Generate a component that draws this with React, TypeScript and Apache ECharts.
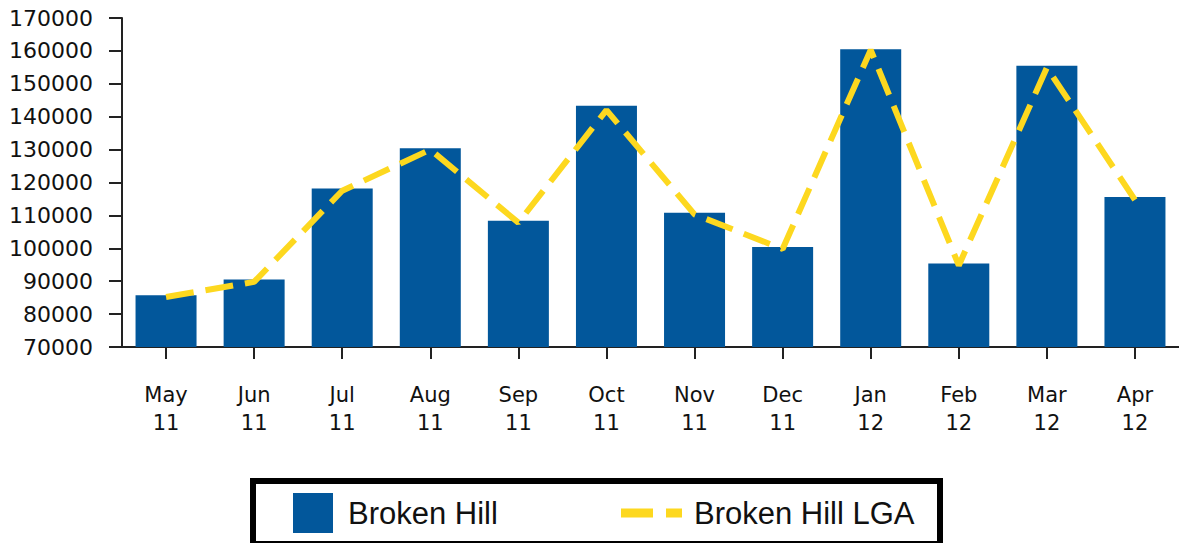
import React, { useEffect, useRef } from "react";
import * as echarts from "echarts";

const months = ["May", "Jun", "Jul", "Aug", "Sep", "Oct", "Nov", "Dec", "Jan", "Feb", "Mar", "Apr"];
const years = ["11", "11", "11", "11", "11", "11", "11", "11", "12", "12", "12", "12"];
const brokenHill = [85700, 90500, 118200, 130400, 108400, 143300, 110800, 100400, 160500, 95400, 155500, 115600];
const brokenHillLGA = [85200, 89800, 117500, 130000, 107800, 142000, 110300, 99800, 160300, 94800, 154900, 114700];
const yMin = 70000;
const yMax = 170000;
const yStep = 10000;

const categories = months.map((m, i) => m + "\n" + years[i]);

export default function App() {
  const ref = useRef<HTMLDivElement>(null);
  useEffect(() => {
    document.body.style.margin = "0";
    const chart = echarts.init(ref.current!, null, { renderer: "svg" });
    const axisFont = "'DejaVu Sans', sans-serif";
    const legendFont = "'Liberation Sans', Arial, sans-serif";
    chart.setOption({
      animation: false,
      backgroundColor: "#ffffff",
      grid: { left: 122, right: -5, top: 18, height: 329, containLabel: false },
      xAxis: {
        type: "category",
        data: categories,
        boundaryGap: true,
        axisLine: { show: true, lineStyle: { color: "#222", width: 2 } },
        axisTick: { show: true, alignWithLabel: true, length: 12, lineStyle: { color: "#222", width: 2 } },
        axisLabel: {
          margin: 34,
          fontFamily: axisFont,
          fontSize: 21,
          lineHeight: 28,
          color: "#111",
          interval: 0,
        },
        splitLine: { show: false },
      },
      yAxis: {
        type: "value",
        min: yMin,
        max: yMax,
        interval: yStep,
        axisLine: { show: true, lineStyle: { color: "#222", width: 2 } },
        axisTick: { show: true, length: 13, lineStyle: { color: "#222", width: 2 } },
        axisLabel: {
          margin: 29,
          fontFamily: axisFont,
          fontSize: 22,
          color: "#111",
          formatter: (v: number) => String(v),
        },
        splitLine: { show: false },
      },
      legend: [
        {
          data: ["Broken Hill"],
          left: 293,
          top: 493,
          orient: "horizontal",
          itemWidth: 40,
          itemHeight: 40,
          icon: "rect",
          padding: 0,
          itemStyle: { borderWidth: 0 },
          textStyle: {
            fontFamily: legendFont,
            fontSize: 31,
            color: "#111",
            lineHeight: 40,
            padding: [0, 0, 0, 10],
          },
          selectedMode: false,
        },
        {
          data: ["Broken Hill LGA"],
          left: 621,
          top: 493,
          orient: "horizontal",
          itemWidth: 61,
          itemHeight: 9,
          icon: "path://M0,0H32V9H0Z M45,0H61V9H45Z",
          padding: 0,
          itemStyle: { borderWidth: 0, color: "#FDD81F" },
          textStyle: {
            fontFamily: legendFont,
            fontSize: 31,
            color: "#111",
            lineHeight: 40,
            padding: [0, 0, 0, 7],
          },
          selectedMode: false,
        },
      ],
      graphic: [
        {
          type: "rect",
          shape: { x: 253, y: 481, width: 687, height: 63 },
          style: { fill: "none", stroke: "#000", lineWidth: 6 },
          z: 0,
          silent: true,
        },
      ],
      series: [
        {
          name: "Broken Hill",
          type: "bar",
          data: brokenHill,
          barWidth: 61,
          itemStyle: { color: "#02579B" },
          z: 2,
        },
        {
          name: "Broken Hill LGA",
          type: "line",
          data: brokenHillLGA,
          symbol: "none",
          itemStyle: { color: "#FDD81F" },
          lineStyle: { color: "#FDD81F", width: 6, type: [28, 12], cap: "butt" },
          z: 3,
        },
      ],
    });
    return () => chart.dispose();
  }, []);
  return <div ref={ref} style={{ width: 1179, height: 543 }} />;
}
